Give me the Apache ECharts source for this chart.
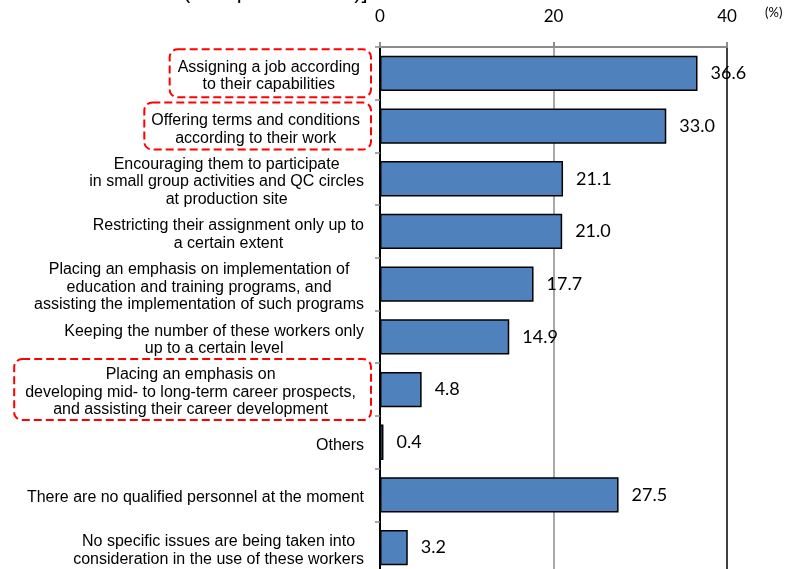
<!DOCTYPE html>
<html>
<head>
<meta charset="utf-8">
<style>html,body{margin:0;padding:0;background:#fff}#c{width:786px;height:569px}</style>
<script src="https://cdn.jsdelivr.net/npm/echarts@6/dist/echarts.min.js"></script>
</head>
<body>
<div id="c"></div>
<script>
const categories = [
  "Assigning a job according\nto their capabilities",
  "Offering terms and conditions\naccording to their work",
  "Encouraging them to participate\nin small group activities and QC circles\nat production site",
  "Restricting their assignment only up to\na certain extent",
  "Placing an emphasis on implementation of\neducation and training programs, and\nassisting the implementation of such programs",
  "Keeping the number of these workers only\nup to a certain level",
  "Placing an emphasis on\ndeveloping mid- to long-term career prospects,\nand assisting their career development",
  "Others",
  "There are no qualified personnel at the moment",
  "No specific issues are being taken into\nconsideration in the use of these workers"
];
const values = [36.6, 33.0, 21.1, 21.0, 17.7, 14.9, 4.8, 0.4, 27.5, 3.2];
const highlighted = [0, 1, 6];
const xMin = 0, xMax = 40, xStep = 20;
const unitLabel = "(%)";
const titleFragment = "(multiple answers)]";

const boxPadding = {0: [9, 11, 4, 8], 1: [9.5, 11, 2.5, 7], 6: [7, 15, 1.5, 11]};

const chart = echarts.init(document.getElementById('c'), null, {renderer: 'canvas'});
const labelFont = 'Liberation Sans';
const numFont = 'Lato';
const labelSize = 16;
const labelLH = 17.5;

const yData = categories.map((c, i) => {
  if (highlighted.indexOf(i) >= 0) {
    return {
      value: c,
      textStyle: {
        borderColor: '#ff0000',
        borderWidth: 2,
        borderType: [8, 4],
        borderRadius: 8,
        padding: boxPadding[i]
      }
    };
  }
  return c;
});

chart.setOption({
  animation: false,
  backgroundColor: '#ffffff',
  grid: {left: 380, right: 59, top: 47, height: 527, containLabel: false, outerBoundsMode: 'none'},
  graphic: [
    {type: 'text', left: 183, y: -8, style: {text: titleFragment, font: '22px "Liberation Sans"', fill: '#000', verticalAlign: 'middle'}},
    {type: 'text', left: 765, top: 6, style: {text: unitLabel, font: '13px Lato', fill: '#000'}}
  ],
  xAxis: {
    type: 'value',
    position: 'top',
    min: xMin, max: xMax, interval: xStep,
    axisLine: {show: true, lineStyle: {color: '#8c8c8c', width: 2}},
    axisTick: {show: true, length: 5, lineStyle: {color: '#8c8c8c', width: 2}},
    axisLabel: {fontFamily: numFont, fontSize: 17, color: '#000', margin: 22},
    splitLine: {show: true, lineStyle: {color: ['#8c8c8c', '#8c8c8c', '#000'], width: 1.5}}
  },
  yAxis: [{
    type: 'category',
    inverse: true,
    data: yData,
    axisLine: {show: true, onZero: false, lineStyle: {color: '#8c8c8c', width: 2}},
    axisTick: {show: true, length: 5, alignWithLabel: false, lineStyle: {color: '#8c8c8c', width: 1.5}},
    axisLabel: {
      interval: 0,
      margin: 9,
      padding: [6, 7, 0, 0],
      color: '#000',
      fontFamily: labelFont,
      fontSize: labelSize,
      lineHeight: labelLH,
      formatter: function (v) {
        return v.split('\n').map(l => '{c|' + l + '}').join('\n');
      },
      rich: {
        c: {align: 'center', fontFamily: labelFont, fontSize: labelSize, lineHeight: labelLH, color: '#000'}
      }
    }
  }, {
    type: 'category',
    inverse: true,
    position: 'right',
    data: categories,
    axisLine: {show: true, lineStyle: {color: '#000', width: 2}},
    axisTick: {show: false},
    axisLabel: {show: false}
  }],
  series: [{
    type: 'bar',
    yAxisIndex: 0,
    data: values,
    barCategoryGap: '33%',
    itemStyle: {color: '#4f81bd', borderColor: '#000', borderWidth: 1.5},
    label: {
      show: true,
      position: 'right',
      distance: 13,
      fontFamily: numFont,
      fontSize: 18,
      color: '#000',
      formatter: p => p.value.toFixed(1)
    }
  }]
});
</script>
</body>
</html>
